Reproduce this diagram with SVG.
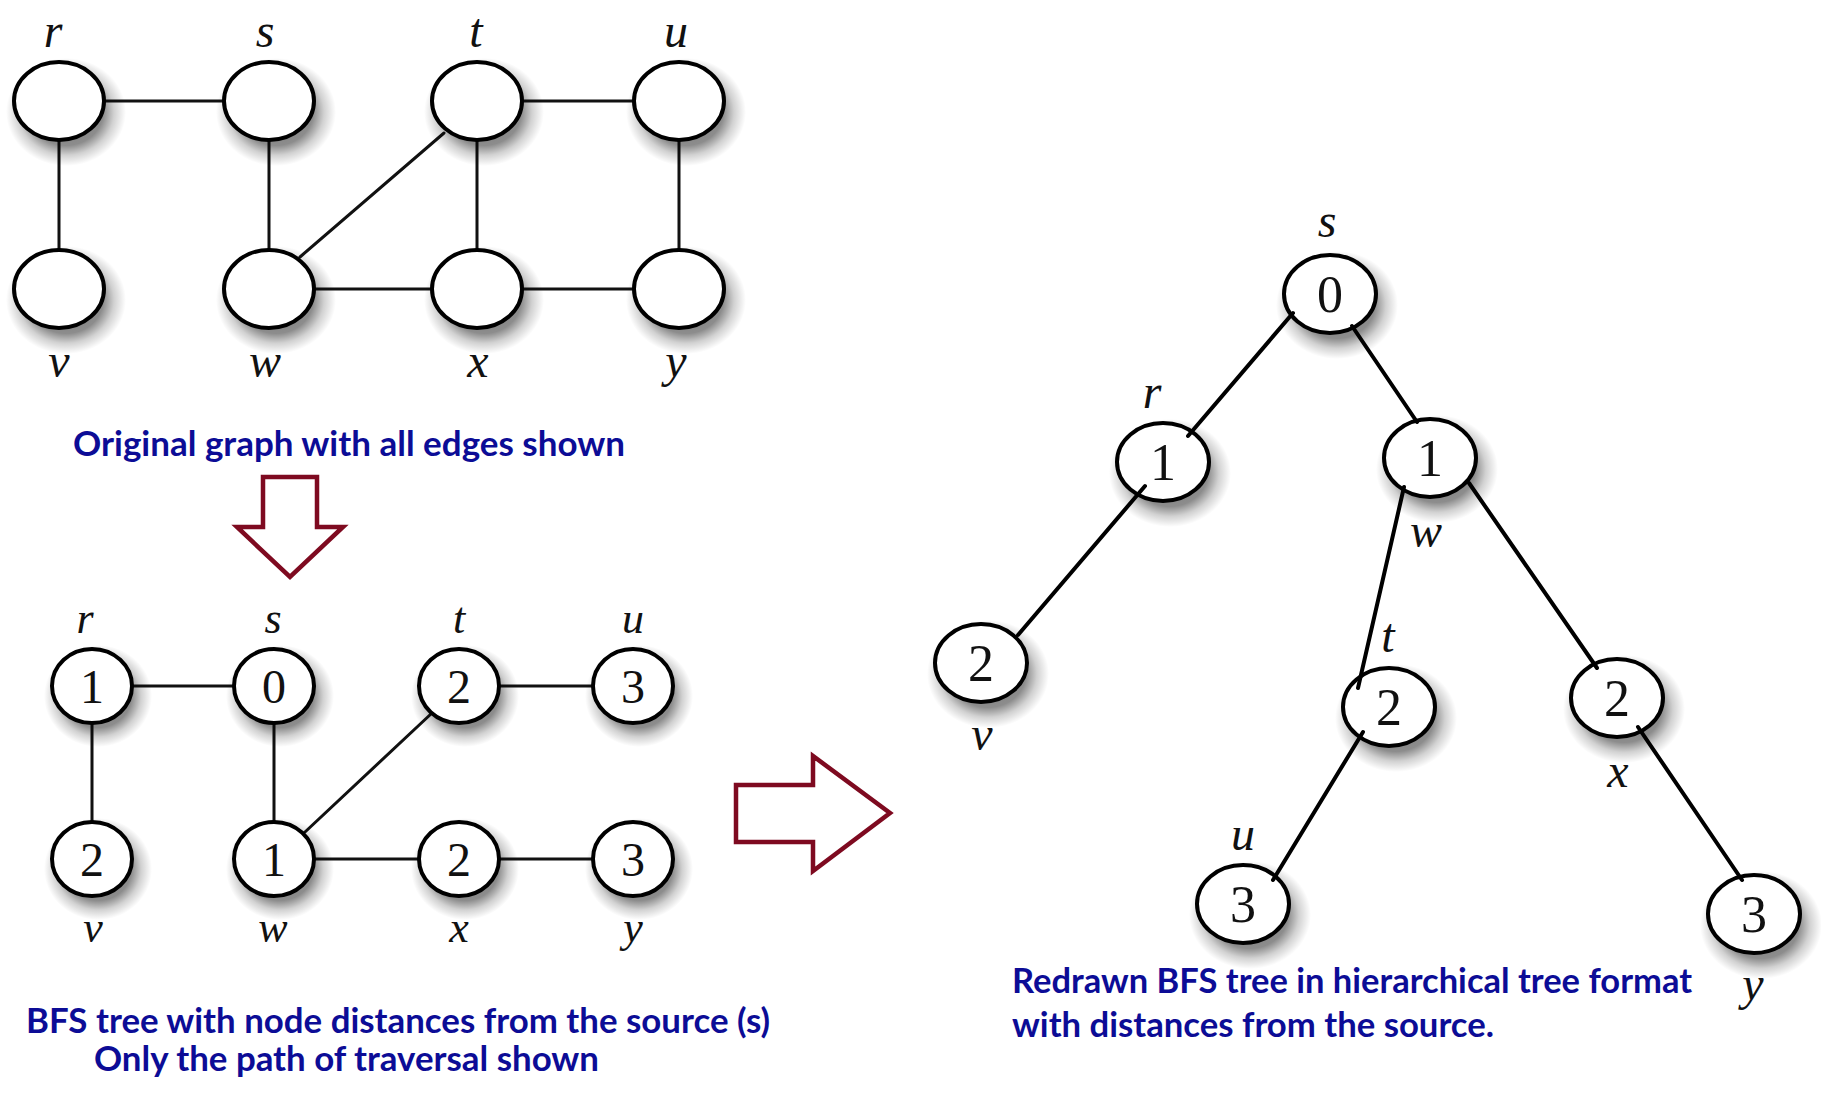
<svg xmlns="http://www.w3.org/2000/svg" width="1821" height="1096" viewBox="0 0 1821 1096">
<style>
.bg{fill:#ffffff}
.nd{fill:#ffffff;stroke:#000000;stroke-width:4}
.shd{fill:url(#shg)}
.ed{stroke:#111111;stroke-width:3;fill:none;stroke-linecap:round}
.ted{stroke:#000000;stroke-width:4;fill:none;stroke-linecap:round}
.lbl{font-family:"Liberation Serif","DejaVu Serif",serif;font-style:italic;fill:#111111;text-anchor:middle}
.dig{font-family:"Liberation Serif","DejaVu Serif",serif;fill:#111111;text-anchor:middle}
.cap{font-family:Lato,"Open Sans","Liberation Sans",sans-serif;font-weight:bold;fill:#0c0c96;font-size:34px}
.arr{fill:#ffffff;stroke:#7e0a20;stroke-width:4.5;stroke-linejoin:miter}
</style>
<defs>
<radialGradient id="shg" cx="0.5" cy="0.5" r="0.5">
<stop offset="0" stop-color="#000" stop-opacity="0.55"/>
<stop offset="0.62" stop-color="#000" stop-opacity="0.45"/>
<stop offset="0.8" stop-color="#000" stop-opacity="0.18"/>
<stop offset="1" stop-color="#000" stop-opacity="0"/>
</radialGradient>
</defs>
<rect class="bg" x="0" y="0" width="1821" height="1096"/>

<!-- Top graph -->
<g id="top-edges">
<line class="ed" x1="59" y1="101" x2="269" y2="101"/>
<line class="ed" x1="477" y1="101" x2="679" y2="101"/>
<line class="ed" x1="59" y1="101" x2="59" y2="289"/>
<line class="ed" x1="269" y1="101" x2="269" y2="289"/>
<line class="ed" x1="477" y1="101" x2="477" y2="289"/>
<line class="ed" x1="679" y1="101" x2="679" y2="289"/>
<line class="ed" x1="269" y1="289" x2="679" y2="289"/>
<line class="ed" x1="300" y1="257" x2="444" y2="133"/>
</g>
<g class="lbl" font-size="48">
<g id="top-r"><ellipse class="shd" cx="66" cy="112" rx="60" ry="54"/><ellipse class="nd" cx="59" cy="101" rx="45" ry="39"/><text x="53" y="47">r</text></g>
<g id="top-s"><ellipse class="shd" cx="276" cy="112" rx="60" ry="54"/><ellipse class="nd" cx="269" cy="101" rx="45" ry="39"/><text x="265" y="47">s</text></g>
<g id="top-t"><ellipse class="shd" cx="484" cy="112" rx="60" ry="54"/><ellipse class="nd" cx="477" cy="101" rx="45" ry="39"/><text x="476" y="47">t</text></g>
<g id="top-u"><ellipse class="shd" cx="686" cy="112" rx="60" ry="54"/><ellipse class="nd" cx="679" cy="101" rx="45" ry="39"/><text x="676" y="47">u</text></g>
<g id="top-v"><ellipse class="shd" cx="66" cy="300" rx="60" ry="54"/><ellipse class="nd" cx="59" cy="289" rx="45" ry="39"/><text x="59" y="377">v</text></g>
<g id="top-w"><ellipse class="shd" cx="276" cy="300" rx="60" ry="54"/><ellipse class="nd" cx="269" cy="289" rx="45" ry="39"/><text x="265" y="377">w</text></g>
<g id="top-x"><ellipse class="shd" cx="484" cy="300" rx="60" ry="54"/><ellipse class="nd" cx="477" cy="289" rx="45" ry="39"/><text x="478" y="377">x</text></g>
<g id="top-y"><ellipse class="shd" cx="686" cy="300" rx="60" ry="54"/><ellipse class="nd" cx="679" cy="289" rx="45" ry="39"/><text x="676" y="377">y</text></g>
</g>
<text id="cap1" class="cap" x="73" y="456" textLength="552" lengthAdjust="spacingAndGlyphs">Original graph with all edges shown</text>

<polygon id="arrow-down" class="arr" points="263,477 317,477 317,527 343,527 290,577 237,527 263,527"/>

<!-- Middle graph -->
<g id="mid-edges">
<line class="ed" x1="92" y1="686" x2="274" y2="686"/>
<line class="ed" x1="459" y1="686" x2="633" y2="686"/>
<line class="ed" x1="92" y1="686" x2="92" y2="859"/>
<line class="ed" x1="274" y1="686" x2="274" y2="859"/>
<line class="ed" x1="274" y1="859" x2="633" y2="859"/>
<line class="ed" x1="305" y1="832" x2="432" y2="713"/>
</g>
<g>
<g id="mid-r"><ellipse class="shd" cx="98" cy="696" rx="54" ry="51"/><ellipse class="nd" cx="92" cy="686" rx="40" ry="37"/><text class="lbl" font-size="44" x="85" y="633">r</text><text class="dig" font-size="48" x="92" y="703">1</text></g>
<g id="mid-s"><ellipse class="shd" cx="280" cy="696" rx="54" ry="51"/><ellipse class="nd" cx="274" cy="686" rx="40" ry="37"/><text class="lbl" font-size="44" x="273" y="633">s</text><text class="dig" font-size="48" x="274" y="703">0</text></g>
<g id="mid-t"><ellipse class="shd" cx="465" cy="696" rx="54" ry="51"/><ellipse class="nd" cx="459" cy="686" rx="40" ry="37"/><text class="lbl" font-size="44" x="459" y="633">t</text><text class="dig" font-size="48" x="459" y="703">2</text></g>
<g id="mid-u"><ellipse class="shd" cx="639" cy="696" rx="54" ry="51"/><ellipse class="nd" cx="633" cy="686" rx="40" ry="37"/><text class="lbl" font-size="44" x="633" y="633">u</text><text class="dig" font-size="48" x="633" y="703">3</text></g>
<g id="mid-v"><ellipse class="shd" cx="98" cy="869" rx="54" ry="51"/><ellipse class="nd" cx="92" cy="859" rx="40" ry="37"/><text class="lbl" font-size="44" x="93" y="942">v</text><text class="dig" font-size="48" x="92" y="876">2</text></g>
<g id="mid-w"><ellipse class="shd" cx="280" cy="869" rx="54" ry="51"/><ellipse class="nd" cx="274" cy="859" rx="40" ry="37"/><text class="lbl" font-size="44" x="273" y="942">w</text><text class="dig" font-size="48" x="274" y="876">1</text></g>
<g id="mid-x"><ellipse class="shd" cx="465" cy="869" rx="54" ry="51"/><ellipse class="nd" cx="459" cy="859" rx="40" ry="37"/><text class="lbl" font-size="44" x="459" y="942">x</text><text class="dig" font-size="48" x="459" y="876">2</text></g>
<g id="mid-y"><ellipse class="shd" cx="639" cy="869" rx="54" ry="51"/><ellipse class="nd" cx="633" cy="859" rx="40" ry="37"/><text class="lbl" font-size="44" x="633" y="942">y</text><text class="dig" font-size="48" x="633" y="876">3</text></g>
</g>
<text id="cap2a" class="cap" x="26" y="1033" textLength="744" lengthAdjust="spacingAndGlyphs">BFS tree with node distances from the source (s)</text>
<text id="cap2b" class="cap" x="94" y="1071" textLength="505" lengthAdjust="spacingAndGlyphs">Only the path of traversal shown</text>

<polygon id="arrow-right" class="arr" points="736,785 813,785 813,756 890,813 813,871 813,842 736,842"/>

<!-- Right tree -->
<g>
<g id="tree-s"><ellipse class="shd" cx="1337" cy="305" rx="61" ry="54"/><ellipse class="nd" cx="1330" cy="294" rx="46" ry="39"/><text class="lbl" font-size="48" x="1327" y="237">s</text><text class="dig" font-size="52" x="1330" y="312">0</text></g>
<g id="tree-r"><ellipse class="shd" cx="1170" cy="473" rx="61" ry="54"/><ellipse class="nd" cx="1163" cy="462" rx="46" ry="39"/><text class="lbl" font-size="48" x="1152" y="408">r</text><text class="dig" font-size="52" x="1163" y="480">1</text></g>
<g id="tree-w"><ellipse class="shd" cx="1437" cy="469" rx="61" ry="54"/><ellipse class="nd" cx="1430" cy="458" rx="46" ry="39"/><text class="lbl" font-size="48" x="1426" y="547">w</text><text class="dig" font-size="52" x="1430" y="476">1</text></g>
<g id="tree-v"><ellipse class="shd" cx="988" cy="674" rx="61" ry="54"/><ellipse class="nd" cx="981" cy="663" rx="46" ry="39"/><text class="lbl" font-size="48" x="982" y="750">v</text><text class="dig" font-size="52" x="981" y="681">2</text></g>
<g id="tree-t"><ellipse class="shd" cx="1396" cy="718" rx="61" ry="54"/><ellipse class="nd" cx="1389" cy="707" rx="46" ry="39"/><text class="lbl" font-size="48" x="1388" y="652">t</text><text class="dig" font-size="52" x="1389" y="725">2</text></g>
<g id="tree-x"><ellipse class="shd" cx="1624" cy="709" rx="61" ry="54"/><ellipse class="nd" cx="1617" cy="698" rx="46" ry="39"/><text class="lbl" font-size="48" x="1618" y="787">x</text><text class="dig" font-size="52" x="1617" y="716">2</text></g>
<g id="tree-u"><ellipse class="shd" cx="1250" cy="915" rx="61" ry="54"/><ellipse class="nd" cx="1243" cy="904" rx="46" ry="39"/><text class="lbl" font-size="48" x="1243" y="850">u</text><text class="dig" font-size="52" x="1243" y="922">3</text></g>
<g id="tree-y"><ellipse class="shd" cx="1761" cy="925" rx="61" ry="54"/><ellipse class="nd" cx="1754" cy="914" rx="46" ry="39"/><text class="lbl" font-size="48" x="1753" y="1000">y</text><text class="dig" font-size="52" x="1754" y="932">3</text></g>
</g>
<g id="tree-edges">
<line class="ted" x1="1293" y1="313" x2="1188" y2="436"/>
<line class="ted" x1="1352" y1="326" x2="1417" y2="422"/>
<line class="ted" x1="1145" y1="486" x2="1018" y2="635"/>
<line class="ted" x1="1404" y1="487" x2="1358" y2="688"/>
<line class="ted" x1="1469" y1="483" x2="1597" y2="668"/>
<line class="ted" x1="1363" y1="732" x2="1273" y2="880"/>
<line class="ted" x1="1638" y1="727" x2="1742" y2="880"/>
</g>
<text id="cap3a" class="cap" x="1012" y="993" textLength="680" lengthAdjust="spacingAndGlyphs">Redrawn BFS tree in hierarchical tree format</text>
<text id="cap3b" class="cap" x="1012" y="1037" textLength="482" lengthAdjust="spacingAndGlyphs">with distances from the source.</text>
</svg>
